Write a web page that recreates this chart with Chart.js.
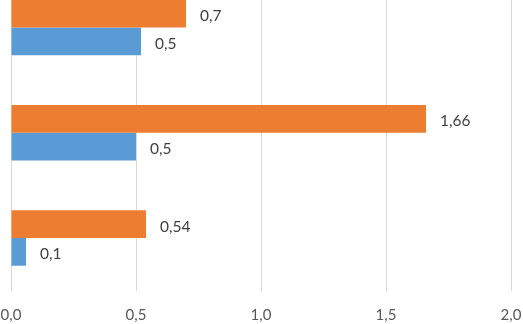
<!DOCTYPE html>
<html>
<head>
<meta charset="utf-8">
<script src="https://cdn.jsdelivr.net/npm/chart.js@4/dist/chart.umd.min.js"></script>
<style>
  html, body { margin: 0; padding: 0; background: #ffffff; overflow: hidden; width: 523px; height: 324px; }
  #wrap { position: absolute; left: 0; top: -25px; width: 523px; height: 349px; }
  canvas { display: block; }
</style>
</head>
<body>
<div id="wrap"><canvas id="c" width="523" height="349"></canvas></div>
<script>
const categories = ["Kategorie 1", "Kategorie 2", "Kategorie 3"];
const orangeValues = [0.7, 1.66, 0.54];
const blueValues = [0.52, 0.5, 0.06];
const xTicks = [0, 0.5, 1.0, 1.5, 2.0];

const fmtComma = (v, d) => (d === null ? String(v) : Number(v).toFixed(d)).replace('.', ',');

const labelPlugin = {
  id: 'barLabels',
  afterDatasetsDraw(chart) {
    const ctx = chart.ctx;
    ctx.save();
    ctx.font = '15.5px Lato, "Open Sans", sans-serif';
    ctx.fillStyle = '#404040';
    ctx.textAlign = 'left';
    ctx.textBaseline = 'middle';
    chart.data.datasets.forEach((ds, i) => {
      const meta = chart.getDatasetMeta(i);
      meta.data.forEach((bar, j) => {
        ctx.fillText(fmtComma(ds.data[j], ds.labelDecimals), bar.x + 14, bar.y + 2.5);
      });
    });
    ctx.restore();
  }
};

new Chart(document.getElementById('c'), {
  type: 'bar',
  data: {
    labels: categories,
    datasets: [
      { label: 'Orange', data: orangeValues, backgroundColor: '#ED7D31', labelDecimals: null,
        categoryPercentage: 0.528, barPercentage: 1.0 },
      { label: 'Blau', data: blueValues, backgroundColor: '#5B9BD5', labelDecimals: 1,
        categoryPercentage: 0.528, barPercentage: 1.0 }
    ]
  },
  options: {
    indexAxis: 'y',
    responsive: false,
    animation: false,
    devicePixelRatio: 1,
    layout: { padding: { left: 11, right: 12, top: 0, bottom: 0 } },
    plugins: { legend: { display: false }, tooltip: { enabled: false } },
    scales: {
      y: { display: false },
      x: {
        min: 0, max: 2,
        afterBuildTicks(scale) { scale.ticks = xTicks.map(v => ({ value: v })); },
        afterFit(scale) { scale.height = 33.5; scale.paddingLeft = 0; scale.paddingRight = 0; },
        grid: { color: '#d9d9d9', drawTicks: false, lineWidth: 1 },
        border: { display: false },
        ticks: {
          padding: 16,
          color: '#595959',
          font: { family: 'Lato, "Open Sans", sans-serif', size: 15 },
          callback: (v) => fmtComma(v, 1)
        }
      }
    }
  },
  plugins: [labelPlugin]
});
</script>
</body>
</html>
